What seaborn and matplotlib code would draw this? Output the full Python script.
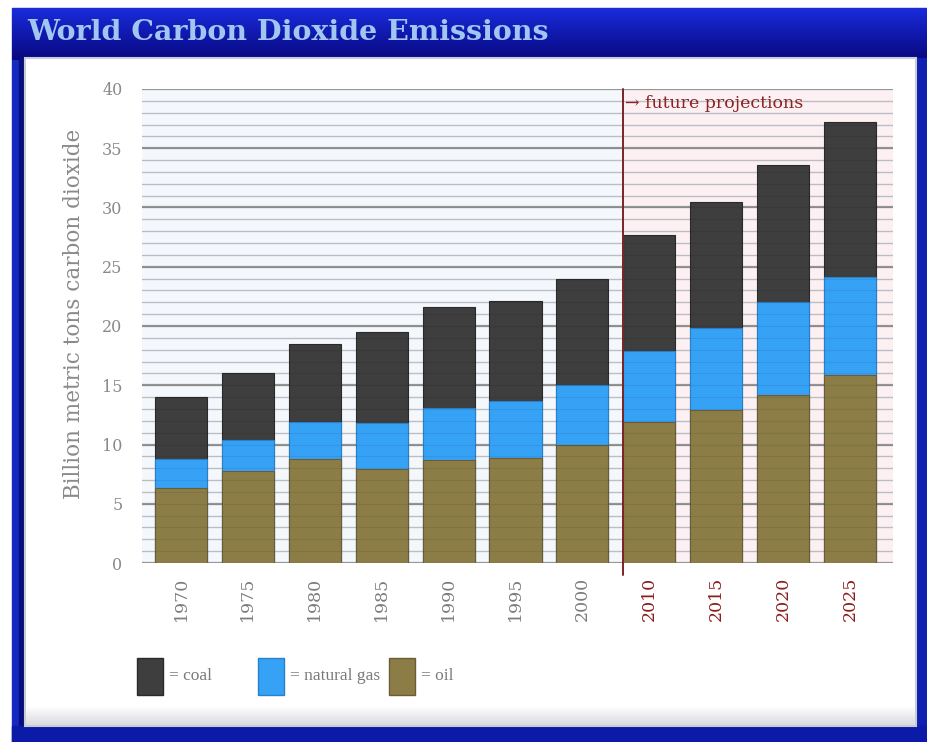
import numpy as np
import pandas as pd
import matplotlib
matplotlib.use("Agg")
import matplotlib.pyplot as plt
from matplotlib.patches import Rectangle
from matplotlib.ticker import MultipleLocator
import seaborn as sns

# ---- data (billion metric tons of CO2) ----
years = ["1970", "1975", "1980", "1985", "1990", "1995", "2000",
         "2010", "2015", "2020", "2025"]
oil = [6.3, 7.8, 8.8, 7.9, 8.7, 8.9, 10.0, 11.9, 12.9, 14.2, 15.9]
natural_gas = [2.5, 2.6, 3.1, 3.9, 4.4, 4.8, 5.0, 6.0, 6.9, 7.8, 8.2]
coal = [5.2, 5.6, 6.6, 7.7, 8.5, 8.4, 9.0, 9.8, 10.7, 11.6, 13.1]
projected = [False] * 7 + [True] * 4
y_ticks = [0, 5, 10, 15, 20, 25, 30, 35, 40]

fuel_names = ["coal", "natural gas", "oil"]
fuel_colors = ["#3e3e3e", "#36a2f6", "#8c7d47"]
fuel_edges = ["#2a2a2a", "#2a80c8", "#6a5d36"]

df = pd.DataFrame({"year": years, "oil": oil, "natural gas": natural_gas, "coal": coal})
df["oil_top"] = df["oil"]
df["gas_top"] = df["oil"] + df["natural gas"]
df["coal_top"] = df["gas_top"] + df["coal"]

W, H = 928, 742
fig = plt.figure(figsize=(W / 100, H / 100), dpi=100)

# ---- frame: blue border, title bar and white panel ----
bg = fig.add_axes([0, 0, 1, 1], zorder=0)
bg.set_xlim(0, W)
bg.set_ylim(H, 0)
bg.axis("off")
bg.add_patch(Rectangle((12, 8), W - 12, H - 8, color="#1528c4"))
grad = np.linspace(0, 1, 64)[:, None, None]
top_c = np.array([0.10, 0.17, 0.86])
bot_c = np.array([0.03, 0.03, 0.50])
title_img = top_c * (1 - grad) + bot_c * grad
bg.imshow(title_img, extent=[12, W, 60, 8], aspect="auto", zorder=1)
bg.add_patch(Rectangle((19, 58), 7, 670, color="#06107a", zorder=2))
bg.add_patch(Rectangle((W - 12, 58), 12, 670, color="#1020b0", zorder=2))
bg.add_patch(Rectangle((12, 726), W - 12, 16, color="#0c1aa8", zorder=2))
bg.add_patch(Rectangle((25, 58), W - 12 - 25, 668, facecolor="white",
                       edgecolor="#c9cbd6", lw=1.5, zorder=3))
shade = np.linspace(0, 1, 32)[:, None, None]
shade_img = np.array([1, 1, 1]) * (1 - shade) + np.array([0.86, 0.86, 0.88]) * shade
bg.imshow(shade_img, extent=[26, W - 13, 725, 706], aspect="auto", zorder=4)

fig.text(27 / W, 1 - 33 / H, "World Carbon Dioxide Emissions",
         family="DejaVu Serif", fontweight="bold", fontsize=20.5,
         color="#a2c6f2", ha="left", va="center", zorder=5)

# ---- chart axes ----
sns.set_style("white")
plt.rcParams["font.family"] = ["DejaVu Serif"]

ax = fig.add_axes([142 / W, 1 - 563 / H, (893 - 142) / W, (563 - 89) / H], zorder=2)
ax.set_facecolor("#f4f7fb")
bar_width = 0.78
first_proj = projected.index(True)
split_x = first_proj - bar_width / 2

ax.axvspan(split_x, 20, color="#fcf0f3", zorder=0)

ax.yaxis.set_major_locator(MultipleLocator(5))
ax.yaxis.set_minor_locator(MultipleLocator(1))
ax.grid(True, axis="y", which="major", color="#969696", lw=1.6, zorder=1)
ax.grid(True, axis="y", which="minor", color="#c9ccd3", lw=1.0, zorder=1)
ax.set_axisbelow(True)

stack = [("coal_top", 0), ("gas_top", 1), ("oil_top", 2)]
for col, i in stack:
    sns.barplot(data=df, x="year", y=col, color=fuel_colors[i], saturation=1,
                width=bar_width, edgecolor=fuel_edges[i], linewidth=0.8,
                ax=ax, zorder=3)

# faint scan lines across the bars
for yv in np.arange(1, 40):
    ax.axhline(yv, color="black", alpha=0.07, lw=0.9, zorder=4)

ax.set_xlim(-0.583, 10.643)
ax.set_ylim(0, 40)
ax.set_yticks(y_ticks)
ax.set_yticklabels([str(t) for t in y_ticks])
for s in ax.spines.values():
    s.set_visible(False)

ax.tick_params(axis="y", which="major", length=4, width=1.6, color="#969696",
               pad=10, labelsize=11.5, labelcolor="#8a8a8a")
ax.tick_params(axis="y", which="minor", length=0)
ax.tick_params(axis="x", length=0, pad=10, labelsize=12.5, rotation=90)
for lbl, proj in zip(ax.get_xticklabels(), projected):
    lbl.set_color("#8b1c1c" if proj else "#7c7c7c")
ax.set_xlabel("")
ax.set_ylabel("")

# boundary between observed and projected values
ax.plot([split_x, split_x], [-1.0, 40], color="#7a2424", lw=1.4,
        clip_on=False, zorder=5)
ax.text(split_x + 0.03, 38.8, "\u2192 future projections", color="#8b2323",
        fontsize=12.5, ha="left", va="center", zorder=6)

fig.text(74 / W, 1 - 314 / H, "Billion metric tons carbon dioxide",
         rotation=90, ha="center", va="center", fontsize=15.5,
         color="#8a8a8a", family="DejaVu Serif", zorder=5)

# ---- legend ----
leg_x = [137, 258, 389]
for name, color, edge, x0 in zip(fuel_names, fuel_colors, fuel_edges, leg_x):
    bg.add_patch(Rectangle((x0, 658), 26, 37, facecolor=color,
                           edgecolor=edge, lw=1.0, zorder=6))
    bg.text(x0 + 32, 676, "= " + name, ha="left", va="center",
            fontsize=12.5, color="#7a7a7a", family="Liberation Serif", zorder=6)

fig.savefig("out.png", dpi=100)
